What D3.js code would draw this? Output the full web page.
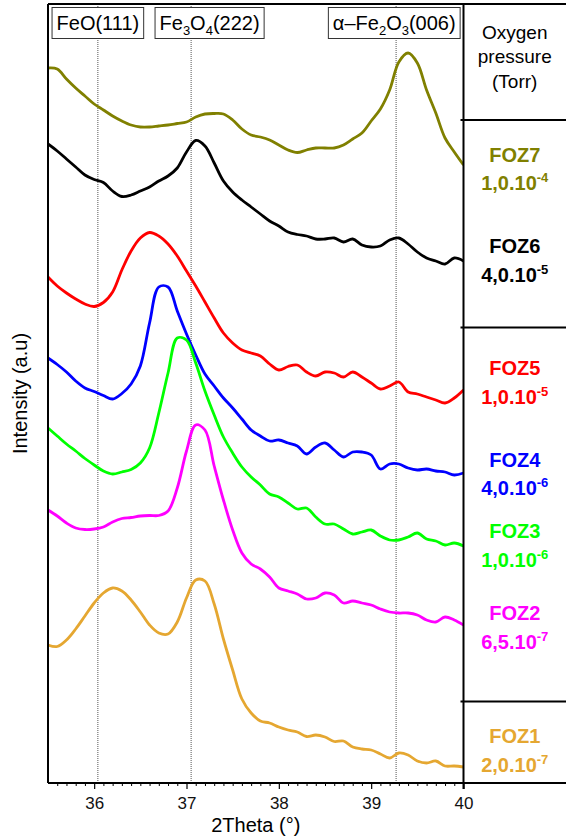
<!DOCTYPE html>
<html>
<head>
<meta charset="utf-8">
<script src="https://cdn.jsdelivr.net/npm/d3@7"></script>
<style>
  body { margin: 0; background: #fff; }
  svg { display: block; font-family: Arial, "Liberation Sans", sans-serif; }
</style>
</head>
<body>
<div id="chart"></div>
<script>
// ------------------------- DATA -------------------------

// 2Theta grid of the scans (degrees)
const twoTheta = [35.5, 35.6, 35.7, 35.8, 35.9, 36.0, 36.1, 36.2, 36.3, 36.4,
                  36.5, 36.6, 36.7, 36.8, 36.9, 37.0, 37.1, 37.2, 37.3, 37.4,
                  37.5, 37.6, 37.7, 37.8, 37.9, 38.0, 38.1, 38.2, 38.3, 38.4,
                  38.5, 38.6, 38.7, 38.8, 38.9, 39.0, 39.1, 39.2, 39.3, 39.4,
                  39.5, 39.6, 39.7, 39.8, 39.9, 40.0];

// intensities (a.u., curves already stacked with their offsets)
const foz7 = [715, 714, 704, 695, 687, 679, 673, 667, 662, 658, 656, 656, 657, 658, 659.5, 661, 666, 669, 669.5, 669,
              663, 654, 648, 646, 643, 638, 633, 630.5, 633, 635, 635, 635, 638, 644, 650, 662, 674, 693, 721, 730,
              720, 693, 670, 645, 631, 618];
const foz6 = [639, 632, 624, 616, 608, 603.5, 600.5, 592, 586.5, 588, 592, 596, 602, 607, 615, 631, 642.5, 637, 620, 602,
              591, 583, 576, 569, 562, 557, 551, 548.5, 547, 544, 544, 545, 541, 544, 538, 536, 537, 543, 545, 539,
              531, 525, 522, 519, 525, 522];
const foz5 = [506, 497, 490, 484, 479, 476.5, 480.5, 491, 513, 532, 545, 550.5, 547, 539, 527, 512, 497, 481, 465, 450,
              440, 433, 430, 427, 419, 413, 416.5, 418, 411, 407, 411, 410, 406, 411, 406, 400, 394, 397, 401, 391,
              389, 386, 383, 380, 385, 393];
const foz4 = [425, 418.5, 411, 402, 395, 391.5, 387.5, 384, 389.5, 399, 417, 460, 496, 496, 472, 449, 428, 409, 397, 385,
              375, 364, 353, 347, 342, 343, 340, 337, 329, 336, 340, 333, 326, 331, 331, 328, 314, 319, 319, 315,
              313, 314, 312, 311, 308, 310];
const foz3 = [355, 347, 339, 332, 324.5, 318, 312, 309, 311, 313.5, 320, 335, 370, 410, 445, 443, 420, 392, 368, 346,
              330, 316, 306, 298, 289, 286, 280, 274, 275, 266, 259, 259, 254, 249, 251, 253, 247, 243, 243, 246,
              250, 244, 242, 238, 240, 237];
const foz2 = [273, 267, 260, 255, 253.5, 254, 256, 261, 264.5, 265.5, 267, 267.5, 267.5, 272, 295, 332, 358, 353, 317, 283,
              253, 230, 219, 214, 206, 195, 192, 189, 184, 185, 190, 188, 180, 182, 180, 178, 174, 171, 170, 170,
              168, 163, 161, 166, 163, 158];
const foz1 = [138, 136.5, 143, 154, 167, 180, 190, 195, 192, 183, 171, 158, 150, 149, 161, 185, 203, 202, 179, 144,
              113, 84, 70, 62, 60, 56, 53, 51, 46.5, 48, 46, 41.5, 42, 36, 34, 33, 29, 25, 30, 28,
              22, 20, 22, 17, 17, 16];

// samples, top to bottom
const sampleNames = ["FOZ7", "FOZ6", "FOZ5", "FOZ4", "FOZ3", "FOZ2", "FOZ1"];
const sampleValues = [foz7, foz6, foz5, foz4, foz3, foz2, foz1];
const sampleColors = ["#808000", "#000000", "#ff0000", "#0000ff", "#00ff00", "#ff00ff", "#e5a731"];
// oxygen pressure (Torr) = mantissa . 10^exponent
const pressureMantissa = ["1,0", "4,0", "1,0", "4,0", "1,0", "6,5", "2,0"];
const pressureExponent = ["-4", "-5", "-5", "-6", "-6", "-7", "-7"];

// reference peak positions
const peakPositions = [36.04, 37.05, 39.27];

// x axis ticks
const majorTicks = [36, 37, 38, 39, 40];

// ------------------------- LAYOUT -------------------------

const chartW = 566, chartH = 836;
const plotL = 48, plotR = 463.5, plotT = 4, plotB = 783;
const fontFamily = "Arial, 'Liberation Sans', sans-serif";

const svg = d3.select("#chart")
              .append("svg")
              .attr("width", chartW)
              .attr("height", chartH);

const x = d3.scaleLinear().domain([35.5, 40]).range([plotL, plotR]);
const y = d3.scaleLinear().domain([0, 779]).range([plotB, plotT]);

// dotted reference lines
svg.selectAll("line.peak")
   .data(peakPositions)
   .enter()
   .append("line")
   .attr("class", "peak")
   .attr("x1", d => x(d)).attr("x2", d => x(d))
   .attr("y1", plotT).attr("y2", plotB)
   .style("stroke", "#555")
   .style("stroke-width", 1)
   .style("stroke-dasharray", "1,1");

// curves
svg.append("clipPath").attr("id", "clip")
   .append("rect").attr("x", plotL).attr("y", plotT)
   .attr("width", plotR - plotL).attr("height", plotB - plotT);

const line = d3.line()
               .x((d, i) => x(twoTheta[i]))
               .y(d => y(d))
               .curve(d3.curveCatmullRom.alpha(0.5));

svg.append("g")
   .attr("clip-path", "url(#clip)")
   .selectAll("path")
   .data(sampleValues)
   .enter()
   .append("path")
   .attr("d", d => line(d))
   .style("fill", "none")
   .style("stroke", (d, i) => sampleColors[i])
   .style("stroke-width", 2.8)
   .style("stroke-linejoin", "round");

// peak label boxes (centre of each box, in degrees)
const peakLabelAt = [36.04, 37.25, 39.25];
const peakLabels = [
  [["FeO(111)", 0]],
  [["Fe", 0], ["3", 1], ["O", 0], ["4", 1], ["(222)", 0]],
  [["\u03b1\u2013Fe", 0], ["2", 1], ["O", 0], ["3", 1], ["(006)", 0]]
];

peakLabels.forEach((parts, k) => {
  const g = svg.append("g");
  const box = g.append("rect");
  const t = g.append("text")
             .attr("x", x(peakLabelAt[k]))
             .attr("y", 29.5)
             .attr("text-anchor", "middle")
             .style("font-size", "20px");
  let shifted = false;
  parts.forEach(p => {
    const s = t.append("tspan").text(p[0]);
    if (p[1]) s.style("font-size", "13px");
    if (p[1] && !shifted) { s.attr("dy", 5); shifted = true; }
    else if (!p[1] && shifted) { s.attr("dy", -5); shifted = false; }
  });
  const bb = t.node().getBBox();
  box.attr("x", bb.x - 4.5).attr("y", 7.5)
     .attr("width", bb.width + 9).attr("height", 31)
     .style("fill", "#fff").style("stroke", "#333").style("stroke-width", 1);
});

// x axis
const xAxis = svg.append("g")
                 .attr("transform", "translate(0," + plotB + ")")
                 .call(d3.axisBottom(x).tickValues(majorTicks).tickFormat(d3.format("d"))
                         .tickSize(6).tickPadding(8).tickSizeOuter(0))
                 .attr("font-family", fontFamily);
xAxis.select(".domain").remove();
xAxis.selectAll("text").style("font-size", "17px").style("fill", "#111");
xAxis.selectAll("line").style("stroke-width", 1.2);

const minorTicks = d3.range(356, 400).map(v => v / 10).filter(v => v % 1 !== 0);
svg.append("g")
   .attr("transform", "translate(0," + plotB + ")")
   .call(d3.axisBottom(x).tickValues(minorTicks).tickSize(3).tickFormat("").tickSizeOuter(0))
   .call(g => g.select(".domain").remove())
   .selectAll("line").style("stroke-width", 1);

// frame
const frame = svg.append("g").style("stroke", "#000").style("stroke-width", 2).style("fill", "none");
frame.append("line").attr("x1", plotL).attr("x2", chartW).attr("y1", plotT).attr("y2", plotT);
frame.append("line").attr("x1", plotL).attr("x2", chartW).attr("y1", plotB).attr("y2", plotB);
frame.append("line").attr("x1", plotL).attr("x2", plotL).attr("y1", plotT).attr("y2", plotB);
frame.append("line").attr("x1", plotR).attr("x2", plotR).attr("y1", plotT).attr("y2", plotB + 6);

// legend panel dividers
const dividers = [120, 327.5, 701.5];
frame.selectAll("line.div")
     .data(dividers)
     .enter()
     .append("line")
     .attr("x1", plotR - 3).attr("x2", chartW)
     .attr("y1", d => d).attr("y2", d => d);

// axis titles
svg.append("text")
   .attr("x", (plotL + plotR) / 2).attr("y", 831.5)
   .attr("text-anchor", "middle")
   .style("font-size", "20px")
   .text("2Theta (\u00b0)");

svg.append("text")
   .attr("transform", "translate(27," + ((plotT + plotB) / 2) + ") rotate(-90)")
   .attr("text-anchor", "middle")
   .style("font-size", "20px")
   .text("Intensity (a.u)");

// legend header
const panelX = (plotR + chartW) / 2;
["Oxygen", "pressure", "(Torr)"].forEach((s, i) => {
  svg.append("text")
     .attr("x", panelX).attr("y", 38.5 + i * 24.5)
     .attr("text-anchor", "middle")
     .style("font-size", "19px")
     .text(s);
});

// legend entries (baseline of the sample name)
const legendY = [161.7, 253.3, 375, 466.7, 538.3, 620, 743.3];
sampleNames.forEach((name, i) => {
  const g = svg.append("g")
               .style("fill", sampleColors[i])
               .style("font-weight", "bold")
               .attr("text-anchor", "middle");
  g.append("text")
   .attr("x", panelX).attr("y", legendY[i])
   .style("font-size", "20px")
   .text(name);
  const p = g.append("text")
             .attr("x", panelX).attr("y", legendY[i] + 28.5)
             .style("font-size", "20px");
  p.append("tspan").text(pressureMantissa[i] + ".10");
  p.append("tspan").attr("dy", -8).style("font-size", "13px").text(pressureExponent[i]);
});
</script>
</body>
</html>
